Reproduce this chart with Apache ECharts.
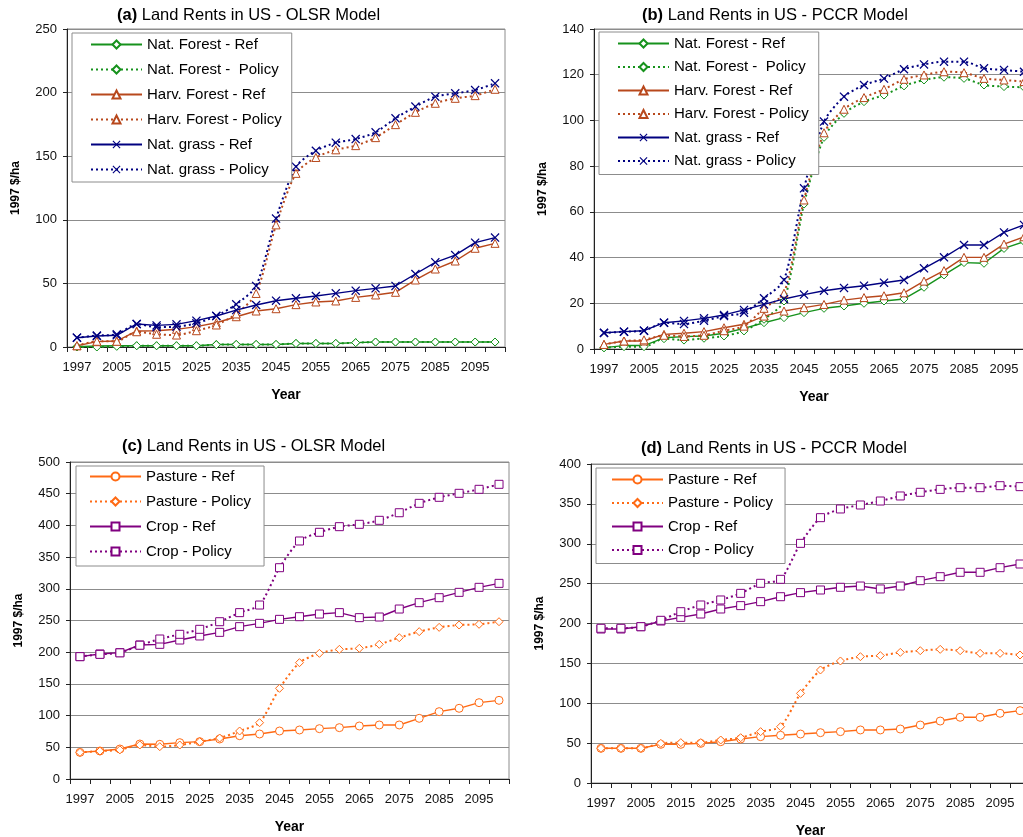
<!DOCTYPE html>
<html>
<head>
<meta charset="utf-8">
<script src="https://cdn.jsdelivr.net/npm/echarts@6.0.0/dist/echarts.min.js"></script>
<style>
  html, body { margin: 0; padding: 0; background: #fff; }
  #main { width: 1023px; height: 837px; }
</style>
</head>
<body>
<div id="main"></div>
<script>
const years = ['1997', '2000', '2005', '2010', '2015', '2020', '2025', '2030', '2035', '2040', '2045',
    '2050', '2055', '2060', '2065', '2070', '2075', '2080', '2085', '2090', '2095', '2100'];

// (a) OLSR - forest / grass
const aNatForestRef = [0.3, 0.8, 1, 1, 1, 1, 1, 2, 2, 2, 2, 2.8, 2.8, 2.8, 3.4, 3.9, 3.9, 3.9, 3.9, 3.9, 3.9, 3.9];
const aNatForestPolicy = [0, 0, 0.5, 1, 1, 1, 1, 1.8, 2, 2, 2, 2.8, 2.8, 2.8, 3.4, 3.9, 3.9, 3.9, 3.9, 3.9, 3.9, 3.9];
const aHarvForestRef = [1, 4.2, 4.7, 12.6, 12.8, 13.9, 16, 19.1, 23.8, 28.3, 30.1, 33.3, 35.4, 36.2, 39, 40.9, 43, 52.7, 61.3, 67.6, 77.6, 81.5];
const aHarvForestPolicy = [1, 4.5, 4.5, 12, 10, 9.4, 12.8, 17.3, 26, 42.1, 96, 136.5, 149, 155, 158.3, 164.6, 174.8, 184.5, 191.6, 195.5, 197.6, 202.6];
const aNatGrassRef = [7.3, 8.6, 9.2, 18.1, 17, 17.8, 20.7, 24.4, 29, 33, 36.4, 38.3, 40.1, 42.2, 44.3, 46.1, 48, 57.4, 66.6, 72.3, 82, 86];
const aNatGrassPolicy = [7.3, 9, 10, 18, 15.6, 16, 18.6, 24.4, 33.6, 48, 101, 141.8, 154.3, 160.6, 163.5, 168.8, 179.8, 189, 196.8, 199.4, 202, 207.3];

// (b) PCCR - forest / grass
const bNatForestRef = [0.6, 1.5, 1.5, 4.9, 5.4, 5.7, 6.9, 9, 11.5, 13.7, 15.9, 17.8, 18.8, 20, 21, 21.9, 27, 32.4, 37.8, 37.5, 44, 47];
const bNatForestPolicy = [0.5, 1, 1, 4.5, 3.9, 4.7, 5.7, 7.9, 13, 21, 63.4, 92.6, 103.1, 108.2, 111.1, 115.1, 117.7, 118.9, 118.4, 115.5, 114.8, 114.5];
const bHarvForestRef = [2, 3.5, 3.5, 6.4, 6.9, 7.6, 9.3, 10.8, 14.4, 16.6, 18.1, 19.5, 21.4, 22.5, 23.3, 24.6, 29.7, 34.3, 40.1, 40.1, 45.9, 49.1];
const bHarvForestPolicy = [2, 3.5, 4, 6, 5.5, 6, 8, 10, 17.8, 24.4, 65.2, 94.6, 104.9, 110, 113.6, 118, 119.9, 121.3, 120.9, 118.4, 117.7, 117];
const bNatGrassRef = [7.1, 7.6, 8, 11.5, 12.3, 13.4, 14.9, 17.1, 19.5, 21.9, 23.8, 25.5, 26.7, 27.7, 29, 30.2, 35.3, 40.1, 45.5, 45.5, 51, 54.3];
const bNatGrassPolicy = [7, 7.6, 8, 11.5, 10.9, 12.4, 14.4, 15.9, 22.2, 30.2, 70.3, 99.5, 110.4, 115.5, 118.3, 122.4, 124.5, 125.7, 125.7, 122.8, 122.1, 121.3];

// (c) OLSR - pasture / crop
const cPastureRef = [42, 44.2, 47.3, 55.2, 54.7, 57.3, 58.9, 63.1, 68.3, 71, 75.7, 77.3, 79.4, 81, 83.6, 85.2, 85.2, 95.7, 106.2, 111.5, 120.4, 124.1];
const cPasturePolicy = [42, 44, 46, 53.7, 51, 53.6, 58.9, 64.6, 75.7, 88.8, 143, 183.5, 198.2, 204.5, 206.1, 212.4, 222.9, 232.4, 239.2, 242.9, 244, 248.1];
const cCropRef = [193, 197.2, 199.3, 211.4, 212.4, 219.2, 225.6, 231.3, 240.3, 245.5, 251.8, 256, 260.2, 262.4, 254.5, 255.5, 268.1, 278.1, 286, 294.4, 302.3, 308.6];
const cCropPolicy = [193, 196.6, 199, 211, 220.8, 228.2, 236.1, 248.1, 262.4, 274.4, 333.3, 375.4, 389.1, 398, 401.7, 408, 420, 434.8, 444.3, 450.6, 456.9, 464.8];

// (d) PCCR - pasture / crop
const dPastureRef = [43.5, 43.5, 43.5, 48.5, 48.5, 49.7, 51.8, 55.2, 58.1, 59.8, 61.4, 63.1, 64.4, 66.5, 66.5, 67.7, 72.7, 77.7, 82.4, 82.4, 87.4, 90.7];
const dPasturePolicy = [43.5, 43.5, 43.5, 49.7, 50.6, 50.6, 53.9, 56.8, 64.4, 70.6, 112.4, 141.7, 153, 158.4, 159.7, 163.8, 165.9, 167.6, 165.9, 162.6, 162.6, 160.5];
const dCropRef = [193.1, 193.1, 196, 203.1, 207.7, 211.9, 218.2, 222.4, 227.4, 233.6, 238.7, 242, 245.4, 247, 243.3, 247, 253.7, 258.7, 264.2, 264.2, 270, 274.6];
const dCropPolicy = [194, 194, 196, 204, 214.8, 223.2, 229.5, 237.8, 250.4, 255.4, 300.5, 332.7, 343.6, 348.6, 353.6, 359.9, 364.5, 368.2, 370.3, 370.3, 372.8, 371.6];

const forestNames = ['Nat. Forest - Ref', 'Nat. Forest -  Policy', 'Harv. Forest - Ref', 'Harv. Forest - Policy', 'Nat. grass - Ref', 'Nat. grass - Policy'];
const cropNames = ['Pasture - Ref', 'Pasture - Policy', 'Crop - Ref', 'Crop - Policy'];

const FONT = '"Liberation Sans", Arial, sans-serif';
const GREEN = '#16921c', BROWN = '#b8481c', NAVY = '#000080', ORANGE = '#ff6a14', PURPLE = '#800080';
const CROSS = 'path://M0,1L1,0L5,4L9,0L10,1L6,5L10,9L9,10L5,6L1,10L0,9L4,5Z';

function line(name, idx, data, color, symbol, policy) {
    const isCross = symbol === CROSS;
    return {
        name: name,
        type: 'line',
        xAxisIndex: idx,
        yAxisIndex: idx,
        data: data,
        symbol: symbol,
        symbolSize: isCross ? 9 : 8,
        smooth: policy ? 0.25 : false,
        // hollow markers: white fill with thin coloured outline
        itemStyle: isCross ? { color: color, borderWidth: 0 } : { color: '#fff', borderColor: color, borderWidth: 1 },
        lineStyle: policy ? { color: color, width: 2, type: [2, 3] } : { color: color, width: 1.4 }
    };
}

const grids = [
    { left: 67, top: 29, width: 438, height: 318 },
    { left: 594, top: 29, width: 440, height: 320 },
    { left: 70, top: 462, width: 439, height: 317 },
    { left: 591, top: 464, width: 439, height: 319 }
];
const yMax = [250, 140, 500, 400];
const yStep = [50, 20, 50, 50];

const chart = echarts.init(document.getElementById('main'), null, { renderer: 'canvas' });

const option = {
    animation: false,
    backgroundColor: '#fff',
    textStyle: { fontFamily: FONT },
    title: [
        { text: '{b|(a)} Land Rents in US - OLSR Model', left: 117, top: 7 },
        { text: '{b|(b)} Land Rents in US - PCCR Model', left: 642, top: 7 },
        { text: '{b|(c)} Land Rents in US - OLSR Model', left: 122, top: 438 },
        { text: '{b|(d)} Land Rents in US - PCCR Model', left: 641, top: 440 }
    ].map(t => Object.assign(t, {
        padding: 0,
        textStyle: {
            fontFamily: FONT, fontSize: 16.5, fontWeight: 'normal', color: '#000',
            rich: { b: { fontFamily: FONT, fontSize: 16.5, fontWeight: 'bold', color: '#000' } }
        }
    })),
    legend: [
        { data: forestNames, left: 72, top: 33, itemGap: 10, padding: [4, 10, 5, 18] },
        { data: forestNames, left: 599, top: 32, itemGap: 8.5, padding: [4, 10, 6, 18] },
        { data: cropNames, left: 76, top: 466, itemGap: 10, padding: [3, 13, 7, 13] },
        { data: cropNames, left: 596, top: 468, itemGap: 8.5, padding: [4, 12, 6, 15] }
    ].map(l => Object.assign(l, {
        orient: 'vertical',
        itemWidth: 51,
        itemHeight: 10,
        backgroundColor: '#fff',
        borderColor: '#8c8c8c',
        borderWidth: 1,
        borderRadius: 0,
        selectedMode: false,
        textStyle: { fontFamily: FONT, fontSize: 15, color: '#000' }
    })),
    grid: grids.map(g => Object.assign(g, {
        show: true,
        borderColor: '#8c8c8c',
        borderWidth: 1,
        backgroundColor: 'transparent',
        containLabel: false,
        outerBoundsMode: 'none'
    })),
    xAxis: grids.map((g, i) => ({
        type: 'category',
        gridIndex: i,
        data: years,
        boundaryGap: true,
        name: 'Year',
        nameLocation: 'middle',
        nameGap: 41,
        nameTextStyle: { fontFamily: FONT, fontSize: 14, fontWeight: 'bold', color: '#000' },
        axisLine: { lineStyle: { color: '#222', width: 1 } },
        axisTick: { show: true, interval: 0, length: 5, lineStyle: { color: '#222' } },
        axisLabel: { interval: 1, margin: 14, fontFamily: FONT, fontSize: 13, color: '#111' },
        splitLine: { show: false }
    })),
    yAxis: grids.map((g, i) => ({
        type: 'value',
        gridIndex: i,
        min: 0,
        max: yMax[i],
        interval: yStep[i],
        name: '1997 $/ha',
        nameLocation: 'middle',
        nameGap: 45,
        nameTextStyle: { fontFamily: FONT, fontSize: 12, fontWeight: 'bold', color: '#000' },
        axisLine: { show: true, lineStyle: { color: '#222', width: 1 } },
        axisTick: { show: true, length: 4, lineStyle: { color: '#222' } },
        axisLabel: { margin: 10, fontFamily: FONT, fontSize: 13, color: '#111' },
        splitLine: { show: true, lineStyle: { color: '#8c8c8c', width: 1 } }
    })),
    series: [
        line(forestNames[0], 0, aNatForestRef, GREEN, 'diamond', false),
        line(forestNames[1], 0, aNatForestPolicy, GREEN, 'diamond', true),
        line(forestNames[2], 0, aHarvForestRef, BROWN, 'triangle', false),
        line(forestNames[3], 0, aHarvForestPolicy, BROWN, 'triangle', true),
        line(forestNames[4], 0, aNatGrassRef, NAVY, CROSS, false),
        line(forestNames[5], 0, aNatGrassPolicy, NAVY, CROSS, true),

        line(forestNames[0], 1, bNatForestRef, GREEN, 'diamond', false),
        line(forestNames[1], 1, bNatForestPolicy, GREEN, 'diamond', true),
        line(forestNames[2], 1, bHarvForestRef, BROWN, 'triangle', false),
        line(forestNames[3], 1, bHarvForestPolicy, BROWN, 'triangle', true),
        line(forestNames[4], 1, bNatGrassRef, NAVY, CROSS, false),
        line(forestNames[5], 1, bNatGrassPolicy, NAVY, CROSS, true),

        line(cropNames[0], 2, cPastureRef, ORANGE, 'circle', false),
        line(cropNames[1], 2, cPasturePolicy, ORANGE, 'diamond', true),
        line(cropNames[2], 2, cCropRef, PURPLE, 'rect', false),
        line(cropNames[3], 2, cCropPolicy, PURPLE, 'rect', true),

        line(cropNames[0], 3, dPastureRef, ORANGE, 'circle', false),
        line(cropNames[1], 3, dPasturePolicy, ORANGE, 'diamond', true),
        line(cropNames[2], 3, dCropRef, PURPLE, 'rect', false),
        line(cropNames[3], 3, dCropPolicy, PURPLE, 'rect', true)
    ]
};

chart.setOption(option);
</script>
</body>
</html>
